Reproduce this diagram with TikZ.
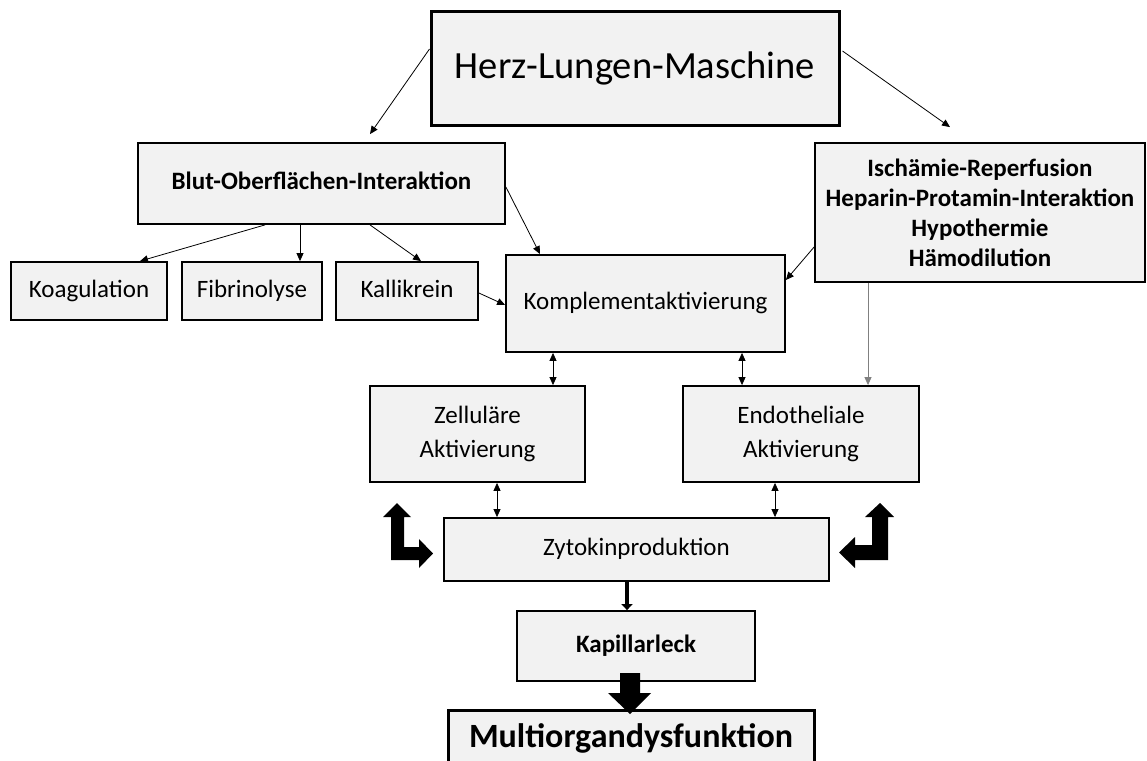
\documentclass[tikz,border=0pt]{standalone}
\usepackage{fontspec}
\setmainfont{Carlito}
\usetikzlibrary{arrows.meta,calc}
\definecolor{boxfill}{HTML}{F2F2F2}
\begin{document}
\begin{tikzpicture}[x=1pt,y=-1pt,
  box/.style={draw,fill=boxfill,line width=1.8pt,inner sep=0pt,align=center,font=\fontsize{25}{34}\selectfont},
  oneline/.style={text height=16pt,text depth=4pt},
  heavybox/.style={box,line width=3pt},
  boldtext/.style={font=\bfseries\fontsize{25}{30}\selectfont},
  conn/.style={line width=0.8pt,-{Triangle[length=8pt,width=7pt]}},
  dconn/.style={line width=0.8pt,{Triangle[length=8pt,width=7pt]}-{Triangle[length=8pt,width=7pt]}},
  bigarrow/.style={fill=black,draw=none}]
\useasboundingbox (0,0) rectangle (1147,760);
\fill[white] (0,0) rectangle (1147,760);

\node[heavybox,text height=25pt,text depth=6pt,minimum width=408pt,minimum height=113pt,font=\fontsize{38.5}{46}\selectfont] (herz) at (635,68.5) {Herz-Lungen-Maschine};
\node[box,oneline,boldtext,minimum width=367pt,minimum height=81pt] (blut) at (321.5,183.5) {Blut-Oberflächen-Interaktion};
\node[box,boldtext,minimum width=330pt,minimum height=139pt] (isch) at (980,212.5) {Ischämie-Reperfusion\\Heparin-Protamin-Interaktion\\Hypothermie\\Hämodilution};
\node[box,oneline,minimum width=156pt,minimum height=58pt] (koag) at (89,291) {Koagulation};
\node[box,oneline,minimum width=140pt,minimum height=58pt] (fibr) at (252,291) {Fibrinolyse};
\node[box,oneline,minimum width=142pt,minimum height=58pt] (kall) at (407,291) {Kallikrein};
\node[box,oneline,minimum width=279pt,minimum height=97pt] (komp) at (645.5,303.5) {Komplementaktivierung};
\node[box,minimum width=215pt,minimum height=96pt] (zell) at (477.5,434) {Zelluläre\\Aktivierung};
\node[box,minimum width=236pt,minimum height=96pt] (endo) at (801,434) {Endotheliale\\Aktivierung};
\node[box,oneline,minimum width=385pt,minimum height=63pt] (zyto) at (636.5,549.5) {Zytokinproduktion};
\node[box,oneline,boldtext,minimum width=238pt,minimum height=70pt] (kap) at (636,646) {Kapillarleck};
\node[heavybox,text height=22pt,text depth=6pt,minimum width=366pt,minimum height=58pt,font=\bfseries\fontsize{34}{40}\selectfont] (multi) at (631,739) {Multiorgandysfunktion};

% thin connectors
\draw[conn] ([yshift=19.5pt]herz.west) -- ([xshift=48.5pt,yshift=8pt]blut.north);
\draw[conn] ([xshift=2pt,yshift=17.5pt]herz.east) -- ([xshift=-30pt,yshift=15pt]isch.north);
\draw[conn] ([xshift=-56.5pt]blut.south) -- ([xshift=51pt]koag.north);
\draw[conn] ([xshift=-21.5pt]blut.south) -- ([xshift=48pt]fibr.north);
\draw[conn] ([xshift=48.5pt]blut.south) -- ([xshift=14pt]kall.north);
\draw[conn] ([yshift=-3.5pt]blut.east) -- ([xshift=-105.5pt]komp.north);
\draw[conn] ([yshift=-2pt]kall.east) -- ([yshift=-1.5pt]komp.west);
\draw[conn] ([yshift=-34.5pt]isch.west) -- ([yshift=23.5pt]komp.east);
\draw[conn,draw=gray] ([xshift=-112pt]isch.south) -- ([xshift=67pt]endo.north);
\draw[dconn] ([xshift=-92.5pt]komp.south) -- ([xshift=75.5pt]zell.north);
\draw[dconn] ([xshift=96.5pt]komp.south) -- ([xshift=-59pt]endo.north);
\draw[dconn] ([xshift=19.5pt]zell.south) -- ([xshift=-139.5pt]zyto.north);
\draw[dconn] ([xshift=-26pt]endo.south) -- ([xshift=138.5pt]zyto.north);
\draw[line width=4pt,-{Triangle[length=6pt,width=11pt]}] ([xshift=-9.5pt]zyto.south) -- ([xshift=-9pt]kap.north);

% block arrow
\fill[bigarrow] (620,673) -- (640,673) -- (640,693) -- (651,693) -- (630,714) -- (608,693) -- (620,693) -- cycle;

% bent arrows
\fill[bigarrow] (397,503) -- (411,517) -- (404,517) -- (404,547) -- (419,547) -- (419,539) -- (433,553.5) -- (419,568) -- (419,560) -- (391,560) -- (391,517) -- (383,517) -- cycle;
\fill[bigarrow] (880,503) -- (894,517) -- (888,517) -- (888,560) -- (855,560) -- (855,568) -- (839,552.5) -- (855,537) -- (855,545) -- (872,545) -- (872,517) -- (865,517) -- cycle;
\end{tikzpicture}
\end{document}
